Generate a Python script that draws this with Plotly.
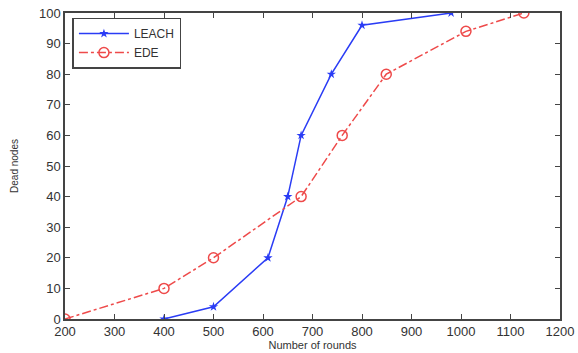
import plotly.graph_objects as go

leach_x = [400, 500, 610, 650, 677, 738, 800, 980]
leach_y = [0, 4, 20, 40, 60, 80, 96, 100]
ede_x = [200, 400, 500, 677, 760, 849, 1010, 1127]
ede_y = [0, 10, 20, 40, 60, 80, 94, 100]
x_ticks = [200, 300, 400, 500, 600, 700, 800, 900, 1000, 1100, 1200]
y_ticks = [0, 10, 20, 30, 40, 50, 60, 70, 80, 90, 100]

fig = go.Figure()
fig.add_trace(go.Scatter(x=leach_x, y=leach_y, name="LEACH", mode="lines+markers",
                         line=dict(color="#2a3cf5", width=1.5),
                         marker=dict(symbol="star", size=7, color="#2a3cf5")))
fig.add_trace(go.Scatter(x=ede_x, y=ede_y, name="EDE", mode="lines+markers",
                         line=dict(color="#ee4a4a", width=1.5, dash="dashdot"),
                         marker=dict(symbol="circle-open", size=10, color="#ee4a4a",
                                     line=dict(width=1.5, color="#ee4a4a"))))

axis_common = dict(showgrid=False, zeroline=False, showline=True, linecolor="#444",
                   linewidth=1.5, mirror="ticks", ticks="inside", ticklen=5,
                   tickcolor="#444", automargin=False,
                   tickfont=dict(family="Arial", size=13, color="#333"))
fig.update_xaxes(range=[200, 1200], tickvals=x_ticks,
                 title=dict(text="Number of rounds", font=dict(family="Arial", size=11, color="#333"),
                            standoff=1), **axis_common)
fig.update_yaxes(range=[0, 100], tickvals=y_ticks,
                 title=dict(text="Dead nodes", font=dict(family="Arial", size=10, color="#333"),
                            standoff=18), **axis_common)
fig.update_layout(width=578, height=353, margin=dict(l=65, r=18, t=13, b=34),
                  plot_bgcolor="white", paper_bgcolor="white",
                  legend=dict(x=0.015, y=0.985, xanchor="left", yanchor="top",
                              bordercolor="#444", borderwidth=1.5, bgcolor="white",
                              font=dict(family="Arial", size=12, color="#333"),
                              tracegroupgap=0, itemwidth=50))
fig.write_html("out.html", config={"displayModeBar": False},
               post_script="document.body.style.margin='0';document.body.style.overflow='hidden';")
